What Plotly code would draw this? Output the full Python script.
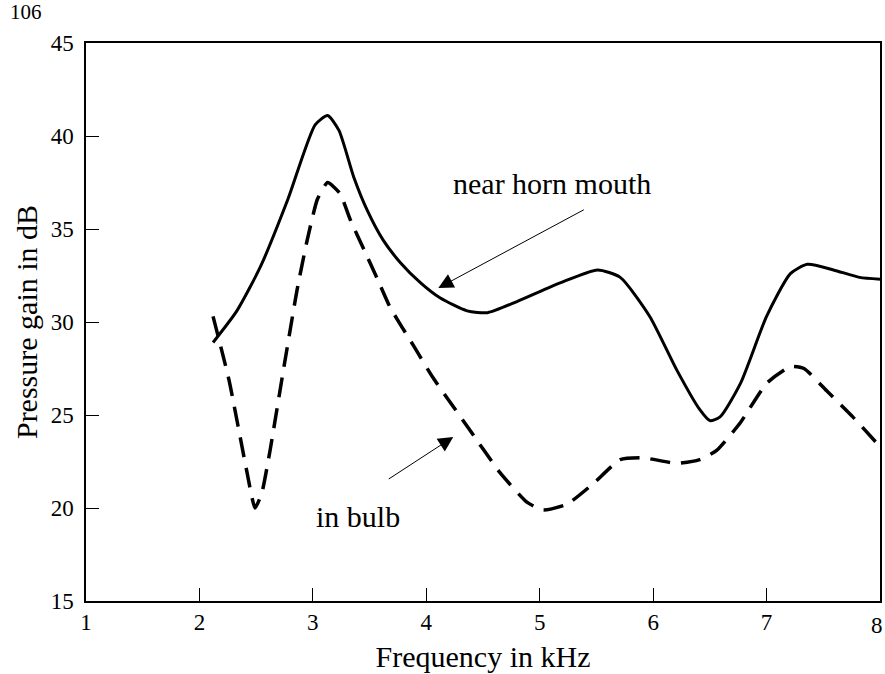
import plotly.graph_objects as go

# near horn mouth (solid)
freq_mouth = [2.12, 2.33, 2.54, 2.78, 3.02, 3.13, 3.23, 3.36, 3.48, 3.62, 3.77, 3.95,
              4.12, 4.36, 4.54, 4.80, 5.18, 5.51, 5.71, 5.97, 6.21, 6.41, 6.50, 6.59,
              6.77, 7.00, 7.21, 7.36, 7.59, 7.82, 8.0]
gain_mouth = [28.9, 30.6, 33.0, 36.6, 40.6, 41.1, 40.3, 37.8, 36.0, 34.4, 33.2, 32.1,
              31.3, 30.6, 30.5, 31.1, 32.1, 32.8, 32.4, 30.3, 27.4, 25.3, 24.7, 24.9,
              26.7, 30.3, 32.6, 33.1, 32.8, 32.4, 32.3]

# in bulb (dashed)
freq_bulb = [2.12, 2.26, 2.42, 2.49, 2.55, 2.62, 2.74, 2.86, 2.95, 3.04, 3.13, 3.24,
             3.33, 3.45, 3.57, 3.68, 3.89, 4.06, 4.36, 4.65, 4.89, 5.03, 5.24, 5.47,
             5.71, 5.91, 6.21, 6.41, 6.56, 6.77, 7.00, 7.21, 7.33, 7.53, 7.76, 8.0]
gain_bulb = [30.3, 26.9, 21.9, 20.0, 20.8, 23.0, 27.4, 31.7, 34.4, 36.6, 37.5, 36.9,
             35.5, 33.9, 32.3, 30.8, 28.7, 27.0, 24.4, 21.9, 20.3, 19.9, 20.2, 21.3,
             22.6, 22.7, 22.4, 22.6, 23.1, 24.6, 26.7, 27.6, 27.5, 26.3, 24.9, 23.3]

x_ticks = [1, 2, 3, 4, 5, 6, 7, 8]
x_labels = ["1", "2", "3", "4", "5", "6", "7", ""]
y_ticks = [15, 20, 25, 30, 35, 40, 45]

serif = "Liberation Serif"

fig = go.Figure()
fig.add_trace(go.Scatter(x=freq_mouth, y=gain_mouth, mode="lines",
                         line=dict(color="black", width=3, shape="spline", smoothing=0.6),
                         showlegend=False))
fig.add_trace(go.Scatter(x=freq_bulb, y=gain_bulb, mode="lines",
                         line=dict(color="black", width=3.5, shape="spline", smoothing=0.5,
                                   dash="20px,11px"),
                         showlegend=False))

# labels + arrows
fig.add_annotation(x=5.11, y=37.47, text="near horn mouth", showarrow=False,
                   font=dict(family=serif, size=30, color="black"))
fig.add_annotation(x=4.106, y=31.83, ax=147, ay=-79, text="", showarrow=True,
                   arrowhead=2, arrowsize=3, arrowwidth=1, arrowcolor="black")
fig.add_annotation(x=3.40, y=19.52, text="in bulb", showarrow=False,
                   font=dict(family=serif, size=30, color="black"))
fig.add_annotation(x=4.238, y=23.82, ax=-66, ay=43, text="", showarrow=True,
                   arrowhead=2, arrowsize=3, arrowwidth=1, arrowcolor="black")

# last x tick label, kept inside the page
fig.add_annotation(x=1.0, y=0.0, xref="paper", yref="paper", xanchor="right", yanchor="top",
                   xshift=5, yshift=-10, text="8", showarrow=False,
                   font=dict(family=serif, size=23, color="black"))

# page number
fig.add_annotation(x=0.0, y=1.0, xref="paper", yref="paper", xshift=-78, yshift=31,
                   xanchor="left", yanchor="middle", text="106", showarrow=False,
                   font=dict(family=serif, size=21, color="black"))

fig.update_xaxes(range=[1, 8], tickvals=x_ticks, ticktext=x_labels, ticks="inside",
                 ticklen=13, tickwidth=1, tickcolor="black", showline=True,
                 linecolor="black", linewidth=1.5, mirror=True, showgrid=False,
                 zeroline=False, automargin=False,
                 tickfont=dict(family=serif, size=23, color="black"),
                 title=dict(text="Frequency in kHz", standoff=12,
                            font=dict(family=serif, size=30, color="black")))
fig.update_yaxes(range=[15, 45], tickvals=y_ticks, ticks="inside", ticklen=13, tickwidth=1,
                 tickcolor="black", showline=True, linecolor="black", linewidth=1.5,
                 mirror=True, showgrid=False, zeroline=False, ticklabelstandoff=6,
                 automargin=False,
                 tickfont=dict(family=serif, size=23, color="black"),
                 title=dict(text="Pressure gain in dB", standoff=4,
                            font=dict(family=serif, size=30, color="black")))

fig.update_layout(width=885, height=674, margin=dict(l=86, r=5, t=43, b=73),
                  plot_bgcolor="white", paper_bgcolor="white")

# drop the browser's default body margin so the figure sits at the page corner
fig.write_html("out.html", config={"displayModeBar": False},
               post_script="document.body.style.margin='0';")
